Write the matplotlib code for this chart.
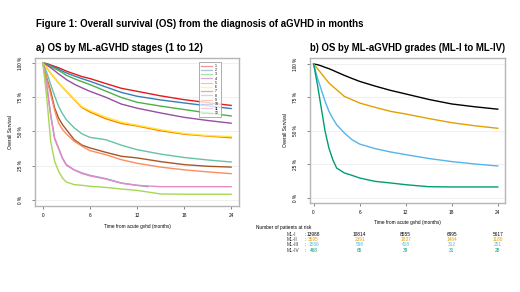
import matplotlib
matplotlib.use("Agg")
import matplotlib.pyplot as plt
from matplotlib.transforms import blended_transform_factory

plt.rcParams['font.family'] = ['Liberation Sans', 'DejaVu Sans']

# months from acute gvhd
months = [0, 0.5, 1, 1.5, 2, 2.5, 3, 4, 5, 6, 8, 10, 12, 15, 18, 21, 24]
months_10 = [0, 0.5, 1, 1.5, 2, 2.5, 3, 4, 5, 6, 8, 10, 12, 13.4]

# panel a: OS by ML-aGVHD stage (%)
stage_1 = [100, 99.5, 98.5, 97.5, 96.5, 95.3, 94, 92, 90, 88.6, 85, 81.5, 79.3, 76, 73.2, 71, 69]
stage_2 = [100, 99.3, 98, 96.8, 95.5, 94, 92.7, 90.5, 88.5, 86.6, 82.5, 78.5, 75.7, 73, 70.8, 68.7, 66.7]
stage_3 = [100, 99, 97.5, 96, 94.5, 92.8, 91, 88.5, 86.3, 84.2, 79.5, 74.8, 71.3, 68.5, 66, 63.5, 61.3]
stage_4 = [100, 98.5, 96.5, 94.3, 92, 90, 87.8, 84.5, 81.8, 79.3, 75, 70, 67, 63.5, 60.3, 58, 56]
stage_5 = [100, 96.5, 92.5, 89, 85.4, 82.3, 79.3, 73.2, 67.4, 64.2, 59.3, 55.8, 54, 50.5, 48, 46.6, 45.4]
stage_6 = [100, 96.5, 92.7, 89, 85.5, 82.5, 79.5, 73.5, 68, 65.2, 60.5, 56.8, 54.6, 51.3, 48.5, 47, 46.2]
stage_7 = [100, 89, 79.3, 67.2, 59.9, 55, 51.3, 44, 40, 38, 34.8, 31.9, 30.7, 28, 25.8, 24.6, 24]
stage_8 = [100, 93, 84.2, 76, 68.4, 63, 58.6, 52.6, 48.2, 45.7, 44, 40, 36.7, 33.5, 31, 29.2, 27.7]
stage_9 = [100, 88, 77, 65.5, 56.2, 51.5, 48.2, 42.8, 39.2, 36, 33.1, 29.4, 26.8, 24, 22, 20.5, 19.2]
stage_10 = [100, 84, 62.5, 45.3, 38, 30.7, 25.8, 22, 19.7, 18, 15.6, 12.4, 10.7, 9.7]
stage_11 = [100, 83, 61.5, 44.5, 37.5, 30.2, 25.3, 21.8, 19.3, 17.6, 15.3, 12.2, 10.7, 9.7, 9.7, 9.7, 9.7]
stage_12 = [100, 74.5, 42.8, 28.2, 21, 16, 13.1, 11.2, 10.7, 10, 9.2, 8, 7, 4.4, 4.2, 4.2, 4.2]

stage_colors = ['#E41A1C', '#377EB8', '#4DAF4A', '#984EA3', '#FF7F00', '#FFE82E',
                '#A65628', '#66C2A5', '#FC8D62', '#8DA0CB', '#E78AC3', '#A6D854']

# panel b: OS by ML-aGVHD grade (%)
grade_names = ['ML-I', 'ML-II', 'ML-III', 'ML-IV']
grade_1 = [100, 99.5, 98.6, 97.5, 96.5, 95.3, 94, 91.5, 89.2, 87, 83.5, 80.3, 77.6, 73.5, 70.1, 68, 66.2]
grade_2 = [100, 96.5, 93, 89.3, 85.8, 83.2, 80.8, 75.8, 73.3, 70.8, 67.6, 64.6, 62.6, 59.2, 56.1, 53.8, 51.9]
grade_3 = [100, 89.5, 80.8, 72, 64.6, 59.3, 54.6, 48.4, 43.4, 40.1, 36.7, 34.2, 32.2, 29.3, 27, 25.2, 23.7]
grade_4 = [100, 84.5, 67, 49.6, 37, 28.4, 22.2, 18.5, 16.7, 14.7, 12.2, 11, 9.7, 8.2, 8, 8, 8]
grade_colors = ['#000000', '#E69F00', '#56B4E9', '#009E73']

# number at risk
risk_times = [0, 6, 12, 18, 24]
risk_1 = [13988, 10814, 8555, 6995, 5617]
risk_2 = [3595, 2391, 1837, 1464, 1180]
risk_3 = [1566, 598, 418, 312, 251]
risk_4 = [468, 65, 39, 31, 28]

ticks_x = [0, 6, 12, 18, 24]
ticks_y = [0, 25, 50, 75, 100]
ticklabels_y = ['0 %', '25 %', '50 %', '75 %', '100 %']


def style_axes(ax):
    ax.set_xticks(ticks_x)
    ax.set_yticks(ticks_y)
    ax.set_yticklabels(ticklabels_y, rotation=90, va='center')
    for y in ticks_y:
        ax.axhline(y, color='#eeeeee', lw=0.6, zorder=0)
    for s in ax.spines.values():
        s.set_color('#b5b5b5')
        s.set_linewidth(1.0)
    ax.tick_params(axis='both', labelsize=3.4, length=2.5, width=0.5, color='#555555')
    ax.tick_params(axis='x', pad=2.5)
    ax.tick_params(axis='y', pad=6)
    ax.set_ylabel('Overall Survival', fontsize=3.4, labelpad=4)
    ax.set_xlabel('Time from acute gvhd (months)', fontsize=3.4, labelpad=4)


fig = plt.figure(figsize=(5.2, 2.92), dpi=100)

fig.text(0.069, 0.918, 'Figure 1: Overall survival (OS) from the diagnosis of aGVHD in months',
         fontsize=7.0, fontweight='bold', va='center')
fig.text(0.069, 0.836, 'a) OS by ML-aGVHD stages (1 to 12)', fontsize=7.0, fontweight='bold', va='center')
fig.text(0.596, 0.836, 'b) OS by ML-aGVHD grades (ML-I to ML-IV)', fontsize=6.9, fontweight='bold', va='center')

# panel a
ax1 = fig.add_axes([0.0673, 0.2945, 0.3923, 0.5069])
stages = [stage_1, stage_2, stage_3, stage_4, stage_5, stage_6, stage_7, stage_8,
          stage_9, stage_10, stage_11, stage_12]
for i, vals in enumerate(stages):
    t = months_10 if i == 9 else months
    ax1.plot(t, vals, color=stage_colors[i], lw=1.0, label=str(i + 1))
ax1.set_xlim(-1.0, 25.0)
ax1.set_ylim(-4.4, 103.6)
style_axes(ax1)
leg = ax1.legend(loc='upper left', bbox_to_anchor=(0.804, 0.973), fontsize=2.5,
                 handlelength=3.2, handletextpad=0.9, labelspacing=0.08,
                 borderpad=0.5, borderaxespad=0, frameon=True, fancybox=False)
leg.get_frame().set_edgecolor('#999999')
leg.get_frame().set_linewidth(0.7)
for h in leg.get_lines():
    h.set_alpha(0.45)
    h.set_linewidth(0.9)

# panel b
ax2 = fig.add_axes([0.596, 0.3048, 0.376, 0.4966])
grades = [grade_1, grade_2, grade_3, grade_4]
for i, vals in enumerate(grades):
    ax2.plot(months, vals, color=grade_colors[i], lw=1.0)
ax2.set_xlim(-0.48, 25.0)
ax2.set_ylim(-4.0, 104.5)
style_axes(ax2)

# risk table under panel b
tr = blended_transform_factory(ax2.transData, fig.transFigure)
fig.text(0.492, 1 - 227 / 292, 'Number of patients at risk', fontsize=3.4, va='center')
risks = [risk_1, risk_2, risk_3, risk_4]
row_y = [234, 239.5, 245, 250.7]
for i, row in enumerate(risks):
    yf = 1 - row_y[i] / 292
    fig.text(0.552, yf, grade_names[i], fontsize=3.4, va='center', color='#333333')
    fig.text(0.586, yf, ':', fontsize=3.4, va='center', color='#333333')
    for t, n in zip(risk_times, row):
        ax2.text(t, yf, str(n), transform=tr, fontsize=3.4, ha='center', va='center',
                 color=grade_colors[i])

fig.savefig('out.png', dpi=100)
